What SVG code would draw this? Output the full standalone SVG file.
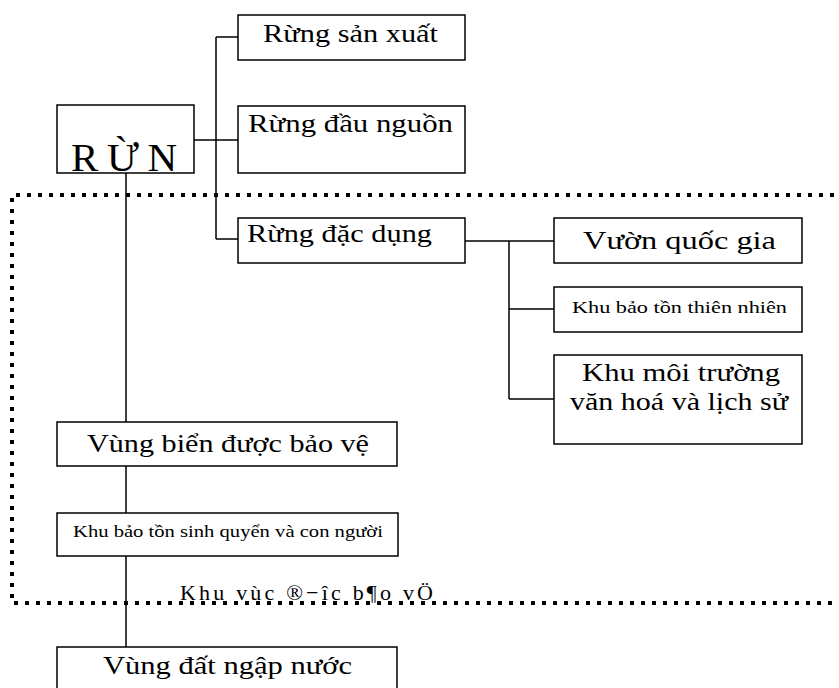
<svg xmlns="http://www.w3.org/2000/svg" width="839" height="688" viewBox="0 0 839 688">
<style>
.box{fill:#fff;stroke:#000;stroke-width:1.5}
.ln{stroke:#000;stroke-width:1.5;fill:none}
.t{font-family:"Liberation Serif","DejaVu Serif",serif;font-size:26px;fill:#000}
.s{font-family:"Liberation Serif","DejaVu Serif",serif;font-size:17px;fill:#000}
.dot{fill:none;stroke:#000;stroke-width:4;stroke-dasharray:4 7}
</style>
<rect width="839" height="688" fill="#fff"/>
<g id="connectors">
<path class="ln" d="M194,140H216M216,37V239M216,37H238M216,140H238M216,239H238"/>
<path class="ln" d="M465,241H554M509,241V399M509,309H554M509,399H554"/>
<path class="ln" d="M126,173V422M126,466V513M126,556V647"/>
</g>
<g id="n-rung">
<rect class="box" x="57" y="105" width="137" height="68"/>
<text class="t" x="71" y="171" style="font-size:41px" textLength="106" lengthAdjust="spacing">RỪN</text>
</g>
<g id="n-sanxuat">
<rect class="box" x="238" y="15" width="227" height="45"/>
<text class="t" x="263" y="42" textLength="175" lengthAdjust="spacingAndGlyphs">Rừng sản xuất</text>
</g>
<g id="n-daunguon">
<rect class="box" x="238" y="106" width="227" height="67"/>
<text class="t" x="248" y="132" textLength="205" lengthAdjust="spacingAndGlyphs">Rừng đầu nguồn</text>
</g>
<g id="n-dacdung">
<rect class="box" x="238" y="218" width="227" height="45"/>
<text class="t" x="247" y="242" textLength="185" lengthAdjust="spacingAndGlyphs">Rừng đặc dụng</text>
</g>
<g id="n-vuonquocgia">
<rect class="box" x="554" y="218" width="248" height="45"/>
<text class="t" x="583" y="249" textLength="193" lengthAdjust="spacingAndGlyphs">Vườn quốc gia</text>
</g>
<g id="n-khubaoton">
<rect class="box" x="554" y="287" width="248" height="45"/>
<text class="s" x="572" y="313" textLength="215" lengthAdjust="spacingAndGlyphs">Khu bảo tồn thiên nhiên</text>
</g>
<g id="n-khumoitruong">
<rect class="box" x="554" y="355" width="248" height="89"/>
<text class="t" x="582" y="381" textLength="198" lengthAdjust="spacingAndGlyphs">Khu môi trường</text>
<text class="t" x="570" y="410" textLength="218" lengthAdjust="spacingAndGlyphs">văn hoá và lịch sử</text>
</g>
<g id="n-vungbien">
<rect class="box" x="57" y="422" width="340" height="44"/>
<text class="t" x="87" y="452" textLength="282" lengthAdjust="spacingAndGlyphs">Vùng biển được bảo vệ</text>
</g>
<g id="n-sinhquyen">
<rect class="box" x="57" y="513" width="341" height="43"/>
<text class="s" x="73" y="537" textLength="310" lengthAdjust="spacingAndGlyphs">Khu bảo tồn sinh quyển và con người</text>
</g>
<g id="n-datngapnuoc">
<rect class="box" x="57" y="647" width="340" height="60"/>
<text class="t" x="103" y="674" textLength="249" lengthAdjust="spacingAndGlyphs">Vùng đất ngập nước</text>
</g>
<g id="region">
<text class="t" x="180" y="600" style="font-size:22px" textLength="253" lengthAdjust="spacing">Khu vùc ®−îc b¶o vÖ</text>
<path class="dot" d="M845,195H12V603H845"/>
</g>
</svg>
